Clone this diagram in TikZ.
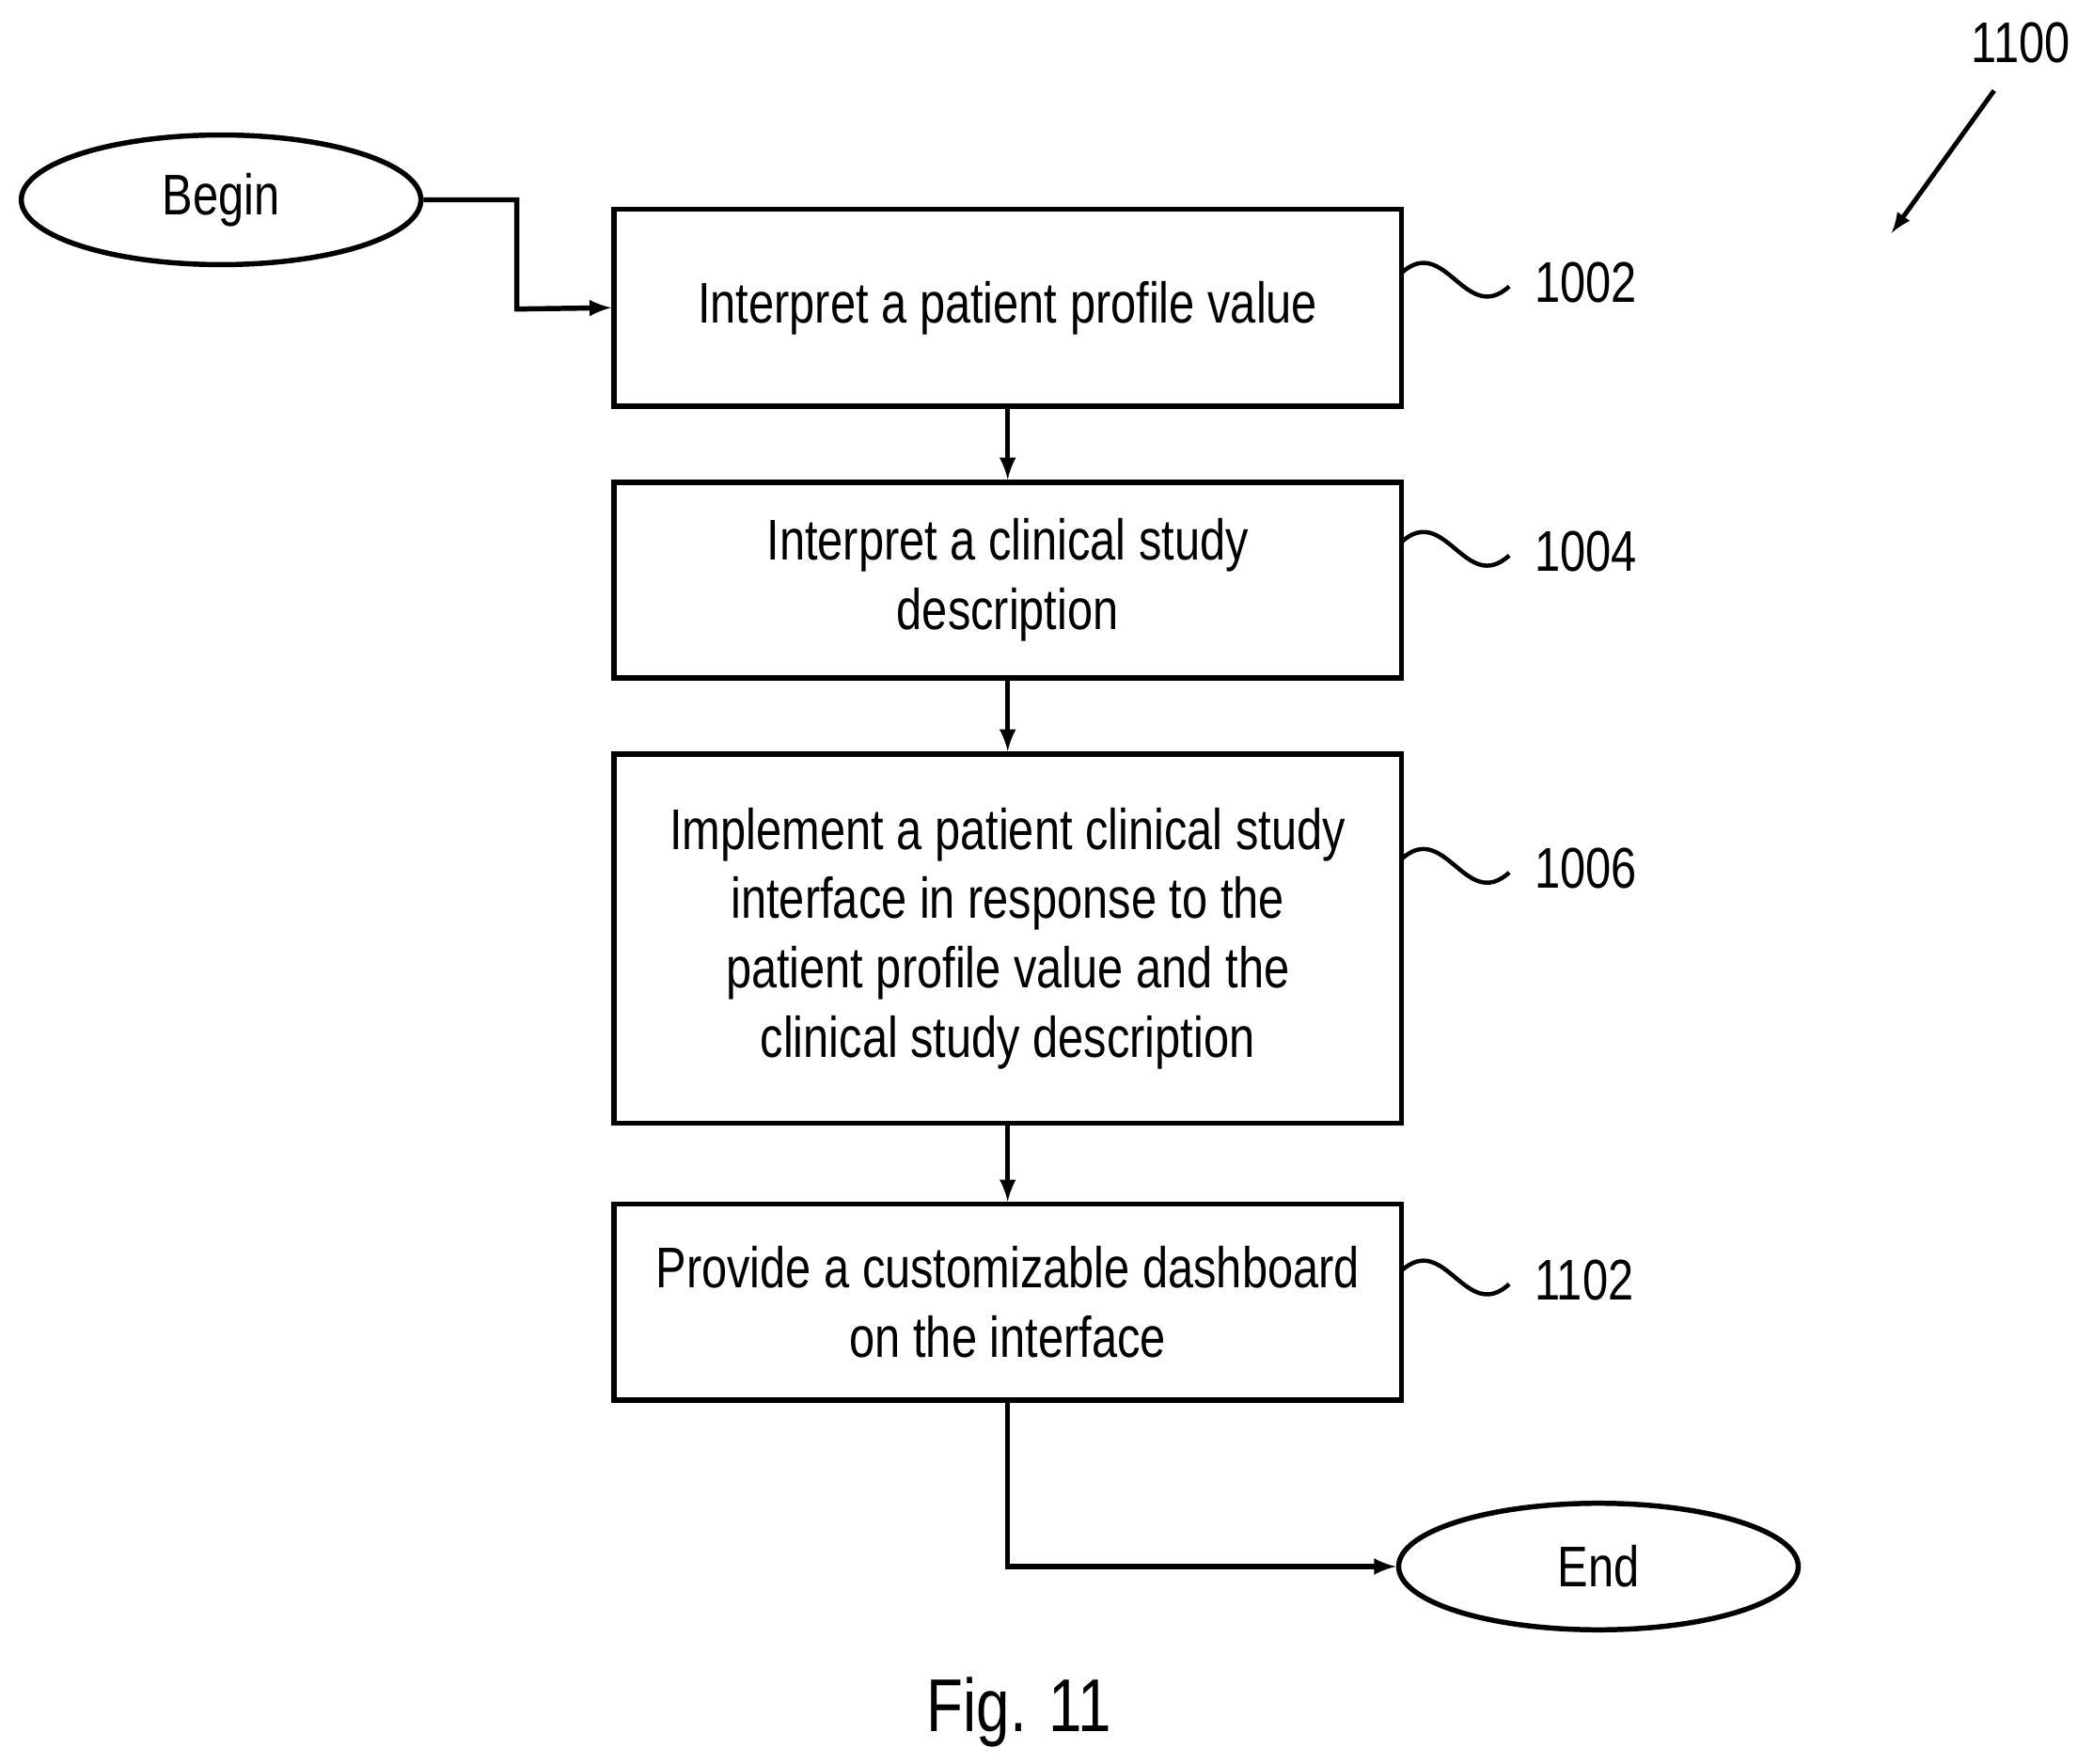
\documentclass[tikz,border=0pt]{standalone}
\usepackage{fontspec}
\setmainfont{Liberation Sans}[FakeStretch=0.8]
\usetikzlibrary{shapes.geometric}
\begin{document}
\fontsize{24.5}{29.6}\selectfont
\begin{tikzpicture}[x=0.02cm, y=-0.02cm, >=latex, line width=2.2pt,
  flowbox/.style={draw, rectangle, align=center, inner sep=0pt},
  term/.style={draw, ellipse, minimum width=300*0.02cm, minimum height=95*0.02cm},
  wave/.style={line width=1.8pt}]
  \useasboundingbox (0,0) rectangle (1560,1324);
  \node[term] (begin) at (166,150) {Begin};
  \node[term] (end) at (1200,1176) {End};
  \node[flowbox, minimum width=591*0.02cm, minimum height=148*0.02cm] (s1) at (756.5,231) {Interpret a patient profile value};
  \node[flowbox, minimum width=591*0.02cm, minimum height=147*0.02cm] (s2) at (756.5,435.5) {Interpret a clinical study\\description};
  \node[flowbox, minimum width=591*0.02cm, minimum height=277*0.02cm] (s3) at (756.5,704.5) {Implement a patient clinical study\\interface in response to the\\patient profile value and the\\clinical study description};
  \node[flowbox, minimum width=591*0.02cm, minimum height=147*0.02cm] (s4) at (756.5,977.5) {Provide a customizable dashboard\\on the interface};
  % connectors
  \draw[->] (begin.east) -| (388,232) -- (s1.west);
  \draw[->] (s1) -- (s2);
  \draw[->] (s2) -- (s3);
  \draw[->] (s3) -- (s4);
  \draw[->] (s4.south) |- (end.west);
  % reference numbers
  \foreach \n/\ys/\lab in {s1/205/1002, s2/407/1004, s3/645/1006, s4/954/1102}{
    \draw[wave] (1052,\ys) .. controls (1085,\ys-30) and (1100,\ys+40) .. (1133,\ys+10);
    \node[anchor=west] at (1136,\ys+7) {\lab};
  }
  \node (fig) at (1517,32) {1100};
  \draw[->, line width=2pt] (1497,68) -- (1420,175);
  \node at (765,1285) {\fontsize{32}{38}\selectfont Fig. 11};
\end{tikzpicture}
\end{document}
